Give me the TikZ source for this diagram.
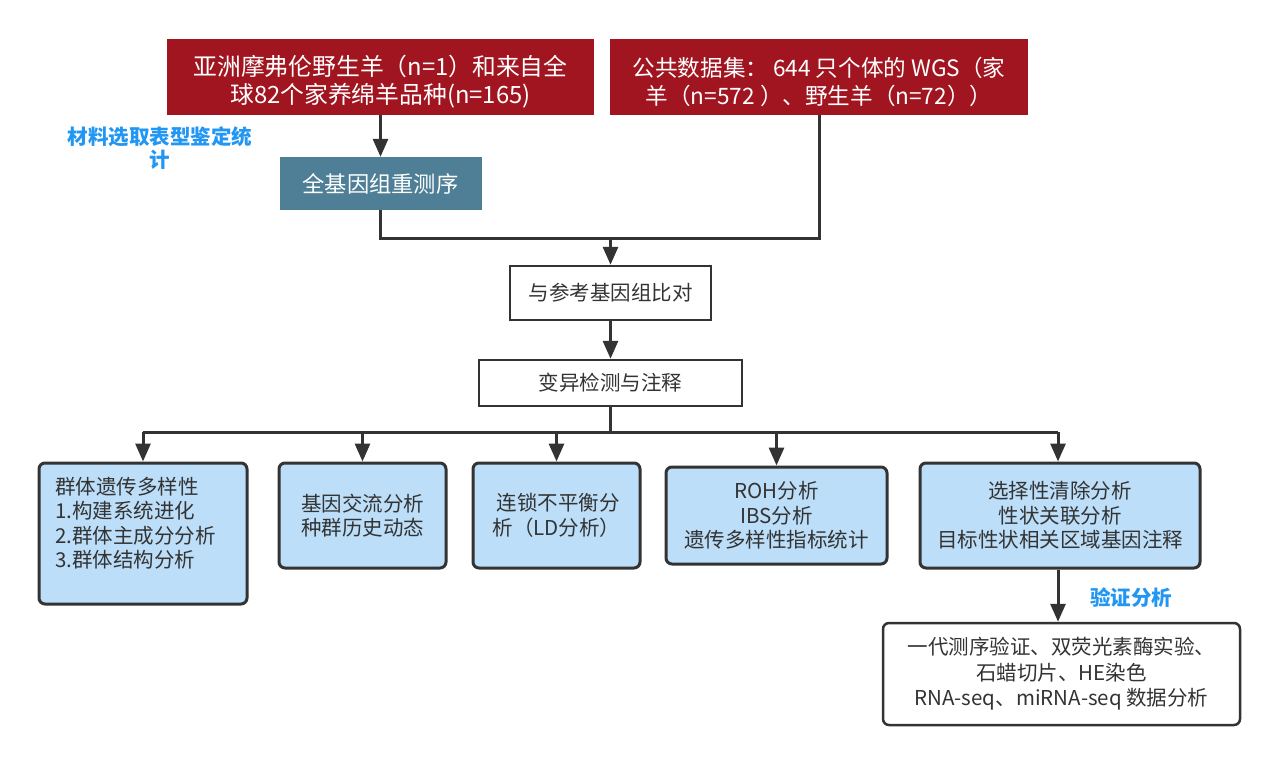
\documentclass[tikz,border=0pt]{standalone}
\usepackage{fontspec}
\setmainfont{Noto Sans CJK SC}
\usetikzlibrary{arrows.meta}
\definecolor{boxred}{HTML}{A11520}
\definecolor{teal2}{HTML}{4E7F96}
\definecolor{lblue}{HTML}{BCDEF8}
\definecolor{dark}{HTML}{333333}
\definecolor{lab}{HTML}{2196F3}
\begin{document}
\begin{tikzpicture}[x=1pt,y=-1pt,
  conn/.style={line width=3pt, draw=dark},
  arr/.style={conn,-{Triangle[width=15pt,length=18pt]}},
  redbox/.style={fill=boxred, draw=none, inner sep=0pt},
  redtext/.style={text=white, inner sep=0pt, align=center},
  tealbox/.style={fill=teal2, text=white, draw=none, inner sep=0pt, align=center, font=\fontsize{22.3}{28}\selectfont},
  wbox/.style={fill=white, draw=dark, line width=2.5pt, inner sep=0pt, align=center, font=\fontsize{20.5}{25.5}\selectfont, text=dark},
  bbox/.style={fill=lblue, draw=dark, line width=3pt, rounded corners=6pt, inner sep=0pt, font=\fontsize{20.5}{24.5}\selectfont, text=dark},
  lbl/.style={text=lab, font=\fontsize{20.5}{23}\selectfont\bfseries, align=center, inner sep=0pt}
]
\useasboundingbox (0,0) rectangle (1280,764);
\fill[white] (0,0) rectangle (1280,764);

\node[redbox, minimum width=427pt, minimum height=76pt] (r1) at (380.5,77) {};
\node[redtext, font=\fontsize{23.8}{28}\selectfont] (r1t) at (380.5,82)
  {亚洲摩弗伦野生羊（n=1）和来自全\\球82个家养绵羊品种(n=165)};
\node[redbox, minimum width=418pt, minimum height=76pt] (r2) at (819,77) {};
\node[redtext, font=\fontsize{22.6}{28}\selectfont] (r2t) at (819,82)
  {公共数据集： 644 只个体的 WGS（家\\羊（n=572 ）、野生羊（n=72））};
\node[lbl] (lab1) at (160,148) {材料选取表型鉴定统\\计};
\node[tealbox, minimum width=202pt, minimum height=53pt] (t) at (380.5,183.5) {全基因组重测序};

\node[wbox, minimum width=201pt, minimum height=54pt] (a) at (610.5,293) {与参考基因组比对};
\node[wbox, minimum width=263pt, minimum height=46pt] (v) at (610.5,383) {变异检测与注释};

\node[bbox, minimum width=208pt, minimum height=141pt] (b1) at (143,533.5) {};
\node[text=dark, font=\fontsize{20.5}{24.5}\selectfont, align=left, anchor=north west, inner sep=0pt] (b1t) at (55,477)
  {群体遗传多样性\\1.构建系统进化\\2.群体主成分分析\\3.群体结构分析};
\node[bbox, align=center, minimum width=167pt, minimum height=105pt] (b2) at (362.5,515.5) {基因交流分析\\种群历史动态};
\node[bbox, align=left, minimum width=167pt, minimum height=105pt] (b3) at (556.5,515.5) {\hspace*{4pt}连锁不平衡分\\析（LD分析）};
\node[bbox, align=center, minimum width=221pt, minimum height=97pt] (b4) at (776.5,515.5) {ROH分析\\IBS分析\\遗传多样性指标统计};
\node[bbox, align=center, minimum width=280pt, minimum height=105pt] (b5) at (1060,515.5) {选择性清除分析\\性状关联分析\\目标性状相关区域基因注释};

\node[lbl] (lab2) at (1131,598) {验证分析};
\node[wbox, rounded corners=6pt, minimum width=357pt, minimum height=102pt] (c) at (1061.5,674)
  {一代测序验证、双荧光素酶实验、\\石蜡切片、HE染色\\RNA-seq、miRNA-seq 数据分析};

\draw[arr] (r1.south) -- (t.north);
\coordinate (j) at (610.5,238);
\draw[conn] (t.south) |- (j);
\draw[conn] (r2.south) |- (j);
\draw[arr] (j) -- (a.north);
\draw[arr] (a.south) -- (v.north);
\coordinate (b) at (610.5,432);
\coordinate (bl) at (143,432);
\coordinate (br) at (1058,432);
\draw[conn] (v.south) -- (b);
\draw[conn] (bl) -- (br);
\draw[arr] (bl) -- (b1.north);
\draw[arr] (b -| b2.north) -- (b2.north);
\draw[arr] (b -| b3.north) -- (b3.north);
\draw[arr] (b -| b4.north) -- (b4.north);
\draw[arr] (br) -- (br |- b5.north);
\draw[arr] (b5.south -| br) -- (br |- c.north);
\end{tikzpicture}
\end{document}
